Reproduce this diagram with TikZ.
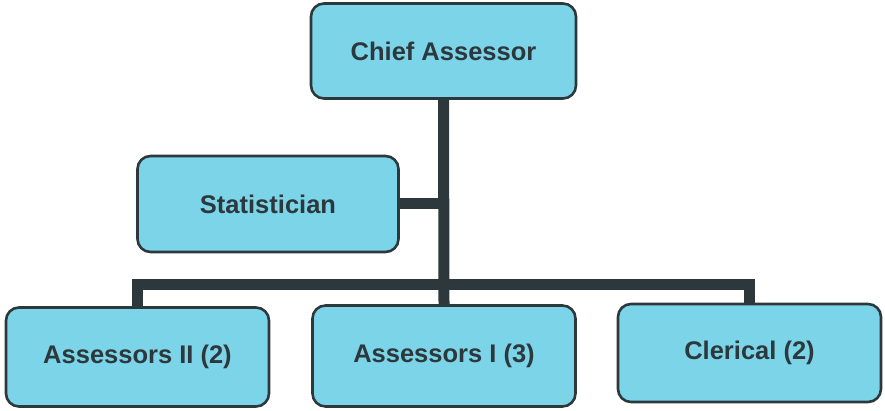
\documentclass[tikz,border=0pt]{standalone}
\usepackage{fontspec}
\setmainfont{Liberation Sans}
\usepackage{tikz}
\usepackage{xcolor}
\definecolor{boxfill}{RGB}{124,212,232}
\definecolor{darkline}{RGB}{44,56,60}

\tikzset{
  unitbox/.style={draw=darkline, line width=2.6pt, fill=boxfill, rounded corners=13pt,
    text=darkline, font=\fontsize{25.5}{30}\selectfont\bfseries, inner sep=0pt},
  link/.style={draw=darkline, line width=11pt}
}

\begin{document}
\begin{tikzpicture}[x=1pt,y=-1pt]
\useasboundingbox (0,0) rectangle (885,411);

\node[unitbox, minimum width=265pt, minimum height=95pt] (chief) at (443.5,51) {Chief Assessor};
\node[unitbox, minimum width=261pt, minimum height=96pt] (stat) at (268,204) {Statistician};
\node[unitbox, minimum width=263pt, minimum height=99pt] (assii) at (137.5,357) {Assessors II (2)};
\node[unitbox, minimum width=263pt, minimum height=101pt] (assi) at (444,356) {Assessors I (3)};
\node[unitbox, minimum width=263pt, minimum height=98pt] (cler) at (749.5,353) {Clerical (2)};

\coordinate (bar) at (0,285);
\coordinate (tee) at (chief.south |- stat.east);

% trunk and branches
\draw[link] (chief.south) -- (assi.north);
\draw[link] (stat.east) -- (tee);
\draw[link] ([xshift=-5.5pt]assii.north |- bar) -- ([xshift=5.5pt]cler.north |- bar);
\draw[link] (assii.north |- bar) -- (assii.north);
\draw[link] (cler.north |- bar) -- (cler.north);
\end{tikzpicture}
\end{document}
